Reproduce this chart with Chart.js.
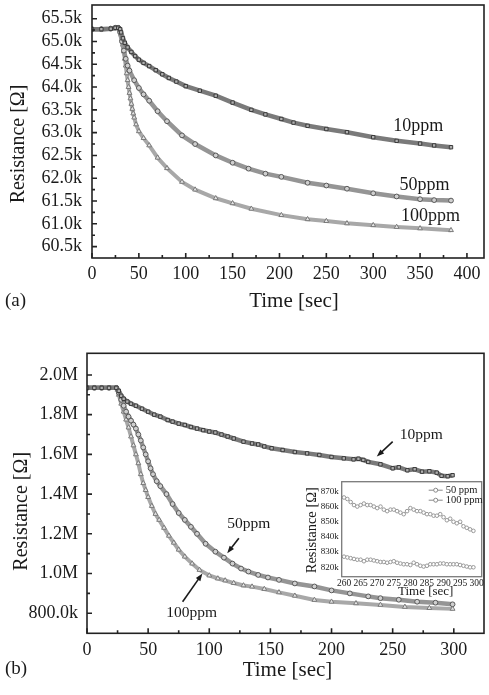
<!DOCTYPE html>
<html lang="en">
<head>
<meta charset="UTF-8">
<title>Sensor resistance vs time</title>
<script src="https://cdn.jsdelivr.net/npm/chart.js@4.4.1/dist/chart.umd.min.js"></script>
<style>
  body { margin: 0; background: #fff; font-family: "Liberation Serif", serif; }
  #page { position: relative; width: 489px; height: 695px; overflow: hidden; }
  canvas { position: absolute; }
  .tag { position: absolute; left: 5px; font-size: 19px; color: #1a1a1a; line-height: 1; }
</style>
</head>
<body>
<div id="page">
  <canvas id="chartA" width="489" height="315" style="left:0;top:0"></canvas>
  <canvas id="chartB" width="489" height="375" style="left:0;top:320px"></canvas>
  <canvas id="chartInset" width="189" height="125" style="left:300px;top:476px"></canvas>
  <div class="tag" style="top:290px">(a)</div>
  <div class="tag" style="top:658px">(b)</div>
</div>
<script>
// ---- panel (a): resistance in kOhm ----
const timeA10 = [0, 10, 20, 25, 28, 30, 31, 33, 35, 38, 42, 46, 50, 55, 61, 68, 75, 82, 90, 100, 115, 132, 150, 170, 185, 202, 215, 230, 250, 272, 300, 325, 350, 365, 383];
const resA10 = [65.27, 65.27, 65.28, 65.30, 65.30, 65.27, 65.2, 65.07, 64.97, 64.87, 64.77, 64.68, 64.6, 64.53, 64.46, 64.37, 64.28, 64.2, 64.12, 64.02, 63.92, 63.81, 63.66, 63.5, 63.4, 63.3, 63.22, 63.15, 63.08, 63.01, 62.9, 62.82, 62.76, 62.72, 62.68];
const timeA50 = [0, 10, 20, 25, 28, 30, 32, 34, 36, 38, 40, 45, 50, 55, 61, 70, 80, 96, 110, 132, 150, 167, 185, 202, 230, 250, 272, 300, 325, 350, 365, 383];
const resA50 = [65.27, 65.27, 65.28, 65.30, 65.30, 65.2, 65.0, 64.8, 64.62, 64.47, 64.36, 64.15, 63.98, 63.84, 63.70, 63.47, 63.25, 62.94, 62.75, 62.5, 62.34, 62.21, 62.1, 62.03, 61.9, 61.84, 61.77, 61.67, 61.6, 61.54, 61.52, 61.51];
const timeA100 = [0, 10, 20, 25, 28, 30, 31, 32, 33, 34, 35, 36, 37, 38, 39, 40, 41, 42, 43, 44, 45, 47, 50, 55, 61, 70, 80, 96, 110, 132, 150, 170, 202, 230, 250, 272, 300, 325, 350, 383];
const resA100 = [65.27, 65.27, 65.28, 65.30, 65.30, 65.25, 65.15, 65.05, 64.93, 64.78, 64.62, 64.47, 64.3, 64.15, 64.0, 63.87, 63.75, 63.63, 63.52, 63.42, 63.33, 63.18, 63.03, 62.88, 62.72, 62.45, 62.22, 61.92, 61.75, 61.56, 61.45, 61.33, 61.19, 61.1, 61.06, 61.01, 60.97, 60.93, 60.9, 60.86];
const xTicksA = [0, 50, 100, 150, 200, 250, 300, 350, 400];
const yTicksA = [60.5, 61.0, 61.5, 62.0, 62.5, 63.0, 63.5, 64.0, 64.5, 65.0, 65.5];

// ---- panel (b): resistance in MOhm ----
const timeB10 = [0, 6, 12, 18, 24, 26, 28, 30, 33, 36, 40, 45, 50, 55, 60, 66, 70, 75, 80, 85, 90, 95, 100, 105, 110, 115, 120, 128, 135, 140, 145, 151, 160, 170, 180, 190, 200, 210, 218, 222, 226, 230, 240, 250, 255, 262, 268, 274, 280, 286, 290, 295, 299];
const resB10 = [1.935, 1.935, 1.935, 1.935, 1.935, 1.92, 1.895, 1.88, 1.866, 1.855, 1.845, 1.83, 1.815, 1.80, 1.79, 1.773, 1.765, 1.755, 1.748, 1.738, 1.73, 1.722, 1.715, 1.71, 1.70, 1.69, 1.68, 1.664, 1.655, 1.65, 1.64, 1.631, 1.622, 1.612, 1.605, 1.597, 1.587, 1.58, 1.575, 1.578, 1.572, 1.562, 1.55, 1.53, 1.535, 1.52, 1.525, 1.513, 1.515, 1.508, 1.492, 1.49, 1.495];
const timeB50 = [0, 6, 12, 18, 24, 26, 28, 30, 32, 34, 36, 38, 40, 42, 44, 46, 48, 50, 52, 54, 57, 60, 65, 70, 75, 80, 85, 90, 97, 105, 112, 119, 126, 132, 140, 148, 157, 170, 186, 200, 215, 230, 240, 255, 270, 285, 299];
const resB50 = [1.935, 1.935, 1.935, 1.935, 1.935, 1.91, 1.875, 1.845, 1.815, 1.79, 1.77, 1.75, 1.73, 1.70, 1.67, 1.635, 1.60, 1.565, 1.53, 1.50, 1.465, 1.44, 1.40, 1.35, 1.305, 1.27, 1.235, 1.20, 1.15, 1.11, 1.08, 1.05, 1.025, 1.01, 0.993, 0.98, 0.968, 0.95, 0.935, 0.915, 0.90, 0.885, 0.876, 0.868, 0.858, 0.853, 0.845];
const timeB100 = [0, 6, 12, 18, 24, 25, 26, 28, 30, 32, 34, 36, 38, 40, 42, 44, 46, 48, 50, 53, 56, 59, 63, 67, 71, 75, 80, 86, 92, 100, 107, 113, 120, 128, 135, 145, 157, 170, 186, 200, 220, 240, 260, 280, 299];
const resB100 = [1.935, 1.935, 1.935, 1.935, 1.935, 1.925, 1.90, 1.855, 1.815, 1.775, 1.735, 1.69, 1.645, 1.60, 1.555, 1.50, 1.455, 1.42, 1.385, 1.34, 1.30, 1.27, 1.23, 1.19, 1.155, 1.12, 1.085, 1.05, 1.018, 0.99, 0.975, 0.965, 0.952, 0.94, 0.934, 0.922, 0.905, 0.888, 0.867, 0.858, 0.85, 0.842, 0.832, 0.826, 0.822];
const xTicksB = [0, 50, 100, 150, 200, 250, 300];
const yTicksB = [0.8, 1.0, 1.2, 1.4, 1.6, 1.8, 2.0];

// ---- inset of (b): kOhm, 260-300 s ----
const timeInset = [260, 261, 262, 263, 264, 265, 266, 267, 268, 269, 270, 271, 272, 273, 274, 275, 276, 277, 278, 279, 280, 281, 282, 283, 284, 285, 286, 287, 288, 289, 290, 291, 292, 293, 294, 295, 296, 297, 298, 299];
const resInset50 = [866, 865, 863, 861, 860, 861, 862, 861, 861, 860, 859, 860, 858, 857, 858, 858, 857, 856, 855, 857, 859, 858, 857, 857, 856, 855, 855, 854, 854, 855, 853, 851, 852, 850, 849, 850, 847, 846, 845, 844];
const resInset100 = [827, 826.5, 826, 825.5, 825, 825, 824, 825, 825, 824.5, 824, 823.5, 823.5, 823, 823.5, 824, 823, 822.5, 822, 822, 821.5, 823, 822, 821, 820.5, 821, 822, 822, 822, 822.5, 822.5, 822, 822, 822, 822, 821.5, 821, 820.5, 820, 820];
const xTicksInset = [260, 265, 270, 275, 280, 285, 290, 295, 300];
const yTicksInset = [820, 830, 840, 850, 860, 870];

Chart.defaults.font.family = '"Liberation Serif", "Times New Roman", serif';
Chart.defaults.color = '#1a1a1a';

function series(times, values, label, style) {
    return Object.assign({ label, data: times.map((t, i) => ({ x: t, y: values[i] })) }, style);
}

const squares = { borderColor: '#7a7a7a', borderWidth: 4.5, pointStyle: 'rect', pointRadius: 2.4, pointBorderWidth: 1, pointBorderColor: '#3a3a3a', pointBackgroundColor: '#b0b0b0' };
const circles = { borderColor: '#959595', borderWidth: 4.5, pointStyle: 'circle', pointRadius: 2.4, pointBorderWidth: 1, pointBorderColor: '#5a5a5a', pointBackgroundColor: '#cfcfcf' };
const triangles = { borderColor: '#a8a8a8', borderWidth: 4, pointStyle: 'triangle', pointRadius: 2.8, pointBorderWidth: 1, pointBorderColor: '#7a7a7a', pointBackgroundColor: '#e4e4e4' };
const insetMarks = { borderColor: '#aaaaaa', borderWidth: 1, pointStyle: 'circle', pointRadius: 1.8, pointBorderWidth: 1, pointBorderColor: '#999', pointBackgroundColor: '#fff' };

function axis(ticks, min, max, fmt, size, pad, fontSize) {
    return {
        type: 'linear', min, max,
        grid: { display: false, drawTicks: false },
        border: { display: false },
        afterBuildTicks: s => { s.ticks = ticks.map(v => ({ value: v })); },
        ticks: { callback: fmt, padding: pad, autoSkip: false, maxRotation: 0, font: { size: fontSize } },
        afterFit: s => {
            if (s.isHorizontal()) s.height = size; else s.width = size;
            // plot area is placed by hand, don't let edge labels shrink it
            s.paddingTop = s.paddingBottom = s.paddingLeft = s.paddingRight = 0;
        }
    };
}

// frame round the plot area, inward tick marks, axis titles
const framePlugin = {
    id: 'frame',
    beforeDraw(chart, args, o) {
        if (!o.fill) return;
        const a = chart.chartArea;
        chart.ctx.save();
        chart.ctx.fillStyle = o.fill;
        chart.ctx.fillRect(a.left, a.top, a.right - a.left, a.bottom - a.top);
        chart.ctx.restore();
    },
    afterDraw(chart, args, o) {
        const { ctx, chartArea: a, scales: { x, y } } = chart;
        ctx.save();
        ctx.strokeStyle = o.color;
        ctx.lineWidth = o.width;
        ctx.strokeRect(a.left, a.top, a.right - a.left, a.bottom - a.top);
        ctx.beginPath();
        const mark = (s, v, len) => {
            const p = s.getPixelForValue(v);
            if (s.isHorizontal()) { ctx.moveTo(p, a.bottom); ctx.lineTo(p, a.bottom - len); }
            else { ctx.moveTo(a.left, p); ctx.lineTo(a.left + len, p); }
        };
        if (o.major) {
            [x, y].forEach(s => {
                const vals = s.ticks.map(t => t.value);
                vals.forEach((v, i) => {
                    mark(s, v, o.major);
                    if (i < vals.length - 1) mark(s, (v + vals[i + 1]) / 2, o.minor);
                });
            });
        }
        ctx.stroke();

        ctx.fillStyle = '#1a1a1a';
        ctx.textAlign = 'center';
        ctx.textBaseline = 'middle';
        const xt = o.xTitle, yt = o.yTitle;
        ctx.font = xt.font;
        ctx.fillText(xt.text, (a.left + a.right) / 2 + xt.shift, xt.y);
        ctx.translate(yt.x, (a.top + a.bottom) / 2 + yt.shift);
        ctx.rotate(-Math.PI / 2);
        ctx.font = yt.font;
        ctx.fillText(yt.text, 0, 0);
        ctx.restore();
    }
};

// curve labels and arrows, placed in data units
const notesPlugin = {
    id: 'notes',
    afterDraw(chart, args, o) {
        if (!o.texts) return;
        const { ctx, scales: { x, y } } = chart;
        ctx.save();
        ctx.fillStyle = ctx.strokeStyle = '#1a1a1a';
        ctx.lineWidth = 1.6;
        (o.arrows || []).forEach(([t1, v1, t2, v2]) => {
            const x1 = x.getPixelForValue(t1), y1 = y.getPixelForValue(v1);
            const x2 = x.getPixelForValue(t2), y2 = y.getPixelForValue(v2);
            const ang = Math.atan2(y2 - y1, x2 - x1);
            ctx.beginPath();
            ctx.moveTo(x1, y1);
            ctx.lineTo(x2 - 5 * Math.cos(ang), y2 - 5 * Math.sin(ang));
            ctx.stroke();
            ctx.beginPath();
            ctx.moveTo(x2, y2);
            ctx.lineTo(x2 - 8 * Math.cos(ang - 0.35), y2 - 8 * Math.sin(ang - 0.35));
            ctx.lineTo(x2 - 8 * Math.cos(ang + 0.35), y2 - 8 * Math.sin(ang + 0.35));
            ctx.closePath();
            ctx.fill();
        });
        ctx.font = o.font;
        ctx.textAlign = 'center';
        ctx.textBaseline = 'middle';
        o.texts.forEach(([t, v, txt]) => ctx.fillText(txt, x.getPixelForValue(t), y.getPixelForValue(v)));
        ctx.restore();
    }
};

// small legend for the inset: line - circle - line, then label
const insetLegendPlugin = {
    id: 'insetLegend',
    afterDraw(chart, args, o) {
        if (!o.show) return;
        const { ctx, chartArea: a } = chart;
        ctx.save();
        ctx.font = '10.5px "Liberation Serif", serif';
        ctx.textBaseline = 'middle';
        chart.data.datasets.forEach((ds, i) => {
            const yy = a.top + 8.5 + i * 10;
            const x0 = a.right - 53;
            ctx.strokeStyle = '#888';
            ctx.lineWidth = 1;
            ctx.beginPath();
            ctx.moveTo(x0, yy); ctx.lineTo(x0 + 14, yy);
            ctx.stroke();
            ctx.fillStyle = '#fff';
            ctx.beginPath();
            ctx.arc(x0 + 7, yy, 2, 0, Math.PI * 2);
            ctx.fill(); ctx.stroke();
            ctx.fillStyle = '#1a1a1a';
            ctx.fillText(ds.label, x0 + 17, yy);
        });
        ctx.restore();
    }
};

Chart.register(framePlugin, notesPlugin, insetLegendPlugin);

const fmtK = v => v.toFixed(1) + 'k';
const fmtM = v => v >= 1 ? v.toFixed(1) + 'M' : (v * 1000).toFixed(1) + 'k';
const fmtInset = v => v + 'k';
const fmtInt = v => String(v);

function baseOptions(padding, scales, plugins) {
    return {
        responsive: false,
        animation: false,
        layout: { padding },
        scales,
        plugins: Object.assign({ legend: { display: false }, tooltip: { enabled: false } }, plugins)
    };
}

new Chart(document.getElementById('chartA'), {
    type: 'line',
    data: {
        datasets: [
            series(timeA10, resA10, '10ppm', squares),
            series(timeA50, resA50, '50ppm', circles),
            series(timeA100, resA100, '100ppm', triangles)
        ]
    },
    options: baseOptions({ top: 5, right: 1, left: 0, bottom: 0 }, {
        x: axis(xTicksA, 0, 418.2, fmtInt, 57, 5, 18),
        y: axis(yTicksA, 60.25, 65.8, fmtK, 92, 10, 18)
    }, {
        frame: {
            color: '#222', width: 1.6, major: 5, minor: 3,
            xTitle: { text: 'Time [sec]', y: 301.5, shift: 6, font: '21px "Liberation Serif", serif' },
            yTitle: { text: 'Resistance [Ω]', x: 19, shift: 12.5, font: '20px "Liberation Serif", serif' }
        },
        notes: {
            font: '18px "Liberation Serif", serif',
            texts: [[348, 63.13, '10ppm'], [354.6, 61.84, '50ppm'], [361, 61.16, '100ppm']]
        }
    })
});

new Chart(document.getElementById('chartB'), {
    type: 'line',
    data: {
        datasets: [
            series(timeB10, resB10, '10ppm', squares),
            series(timeB50, resB50, '50ppm', circles),
            series(timeB100, resB100, '100ppm', triangles)
        ]
    },
    options: baseOptions({ top: 33.3, right: 2, left: 0, bottom: 0 }, {
        x: axis(xTicksB, 0, 324.7, fmtInt, 61.7, 6, 18),
        y: axis(yTicksB, 0.699, 2.109, fmtM, 87, 9, 18)
    }, {
        frame: {
            color: '#222', width: 1.6, major: 5, minor: 3,
            xTitle: { text: 'Time [sec]', y: 350, shift: 2, font: '21px "Liberation Serif", serif' },
            yTitle: { text: 'Resistance [Ω]', x: 22, shift: 18, font: '20px "Liberation Serif", serif' }
        },
        notes: {
            font: '15.5px "Liberation Serif", serif',
            texts: [[273.5, 1.698, '10ppm'], [132.3, 1.25, '50ppm'], [85.6, 0.803, '100ppm']],
            arrows: [[250, 1.664, 237, 1.589], [124.2, 1.178, 114.7, 1.102], [78.2, 0.858, 94.4, 1.0]]
        }
    })
});

new Chart(document.getElementById('chartInset'), {
    type: 'line',
    data: {
        datasets: [
            series(timeInset, resInset50, '50 ppm', insetMarks),
            series(timeInset, resInset100, '100 ppm', insetMarks)
        ]
    },
    options: baseOptions({ top: 5.7, right: 7.3, left: 0, bottom: 0 }, {
        x: axis(xTicksInset, 259.3, 301.5, fmtInt, 24.3, 1, 9.5),
        y: axis(yTicksInset, 813.8, 876.4, fmtInset, 41.7, 3, 9)
    }, {
        frame: {
            color: '#7a7a7a', width: 1.3, major: 0, minor: 0, fill: '#fff',
            xTitle: { text: 'Time [sec]', y: 115.7, shift: 14, font: '13px "Liberation Serif", serif' },
            yTitle: { text: 'Resistance [Ω]', x: 11.7, shift: 1, font: '14.5px "Liberation Serif", serif' }
        },
        insetLegend: { show: true }
    })
});
</script>
</body>
</html>
